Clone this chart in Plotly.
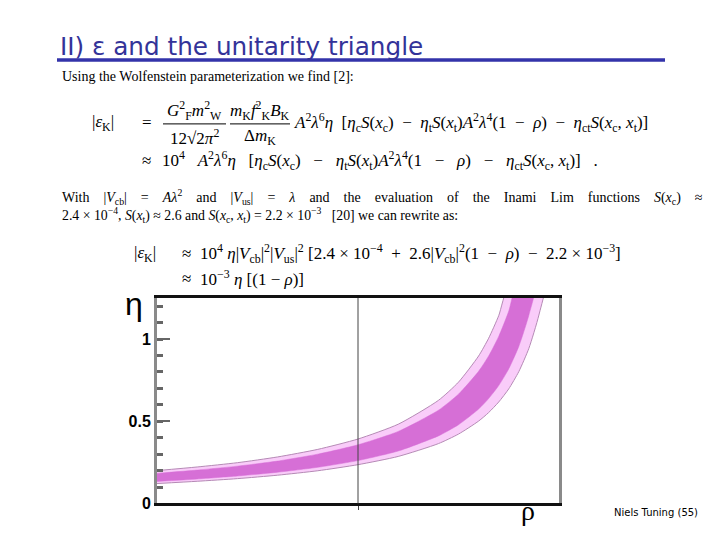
import plotly.graph_objects as go

# ---- data (rho, eta) for the four band edges ----
outer_up_rho = [-1.0, -0.8, -0.6, -0.4, -0.2, 0.0, 0.2, 0.4, 0.5, 0.6, 0.65, 0.7, 0.75]
outer_up_eta = [0.200, 0.222, 0.248, 0.283, 0.329, 0.392, 0.482, 0.627, 0.738, 0.897, 1.005, 1.142, 1.324]

inner_up_rho = [-1.0, -0.8, -0.6, -0.4, -0.2, 0.0, 0.2, 0.4, 0.5, 0.6, 0.65, 0.7, 0.75, 0.8]
inner_up_eta = [0.183, 0.203, 0.227, 0.258, 0.300, 0.357, 0.438, 0.567, 0.665, 0.804, 0.897, 1.016, 1.170, 1.380]

inner_lo_rho = [-1.0, -0.8, -0.6, -0.4, -0.2, 0.0, 0.2, 0.4, 0.5, 0.6, 0.65, 0.7, 0.75, 0.8, 0.85, 0.9]
inner_lo_eta = [0.134, 0.149, 0.167, 0.190, 0.220, 0.261, 0.319, 0.411, 0.479, 0.574, 0.638, 0.717, 0.819, 0.955, 1.145, 1.429]

outer_lo_rho = [-1.0, -0.8, -0.6, -0.4, -0.2, 0.0, 0.2, 0.4, 0.5, 0.6, 0.65, 0.7, 0.75, 0.8, 0.85, 0.9, 0.95]
outer_lo_eta = [0.121, 0.135, 0.151, 0.172, 0.199, 0.236, 0.286, 0.364, 0.422, 0.501, 0.553, 0.617, 0.697, 0.802, 0.943, 1.146, 1.459]

ytick_vals = [0, 0.5, 1]
ytick_text = ["<b>0</b>", "<b>0.5</b>", "<b>1</b>"]
marker_rho = 0.0  # vertical reference line

W, H = 720, 540
def px(x):
    return x / W
def py(y):
    return 1 - y / H

fig = go.Figure()

# outer (light) band
fig.add_trace(go.Scatter(
    x=outer_up_rho + outer_lo_rho[::-1],
    y=outer_up_eta + outer_lo_eta[::-1],
    fill="toself", fillcolor="#f9ccf9",
    line=dict(color="#b58ab5", width=1, shape="spline", smoothing=0.6),
    mode="lines", hoverinfo="skip", showlegend=False))
# inner (dark) band
fig.add_trace(go.Scatter(
    x=inner_up_rho + inner_lo_rho[::-1],
    y=inner_up_eta + inner_lo_eta[::-1],
    fill="toself", fillcolor="#d66fd6",
    line=dict(color="#d66fd6", width=0.5, shape="spline", smoothing=0.6),
    mode="lines", hoverinfo="skip", showlegend=False))

serif = "Liberation Serif"
ann = []
def add(text, x, y, size=14, xanchor="left", family=serif, color="black"):
    ann.append(dict(text=text, x=px(x), y=py(y), xref="paper", yref="paper",
                    xanchor=xanchor, yanchor="middle", showarrow=False,
                    font=dict(family=family, size=size, color=color)))

S = "\u00a0"
def op(sym, n=2):
    return S * n + sym + S * n

EQ = 17
def bracket(n):
    return ("[<i>η</i><sub>c</sub><i>S</i>(<i>x</i><sub>c</sub>)" + op("−", n) +
            "<i>η</i><sub>t</sub><i>S</i>(<i>x</i><sub>t</sub>)"
            "<i>A</i><sup>2</sup><i>λ</i><sup>4</sup>(1" + op("−", n) + "<i>ρ</i>)" + op("−", n) +
            "<i>η</i><sub>ct</sub><i>S</i>(<i>x</i><sub>c</sub>, <i>x</i><sub>t</sub>)]")

# title
add("II) ε and the unitarity triangle", 58, 47, size=24.7, family="DejaVu Sans", color="#333399")

add("Using the Wolfenstein parameterization we find [2]:", 60, 78, size=14)

# first equation
add("|<i>ε</i><sub>K</sub>|", 90, 125, size=EQ)
add("=", 140, 125, size=EQ)
add("<i>G</i><sup>2</sup><sub>F</sub><i>m</i><sup>2</sup><sub>W</sub>", 194, 112, size=EQ, xanchor="center")
add("12√2<i>π</i><sup>2</sup>", 194, 139, size=EQ, xanchor="center")
add("<i>m</i><sub>K</sub><i>f</i><sup>2</sup><sub>K</sub><i>B</i><sub>K</sub>", 260, 112, size=EQ, xanchor="center")
add("Δ<i>m</i><sub>K</sub>", 260, 139, size=EQ, xanchor="center")
add("<i>A</i><sup>2</sup><i>λ</i><sup>6</sup><i>η</i>" + S * 2 + bracket(2) + S, 292, 125, size=EQ)
add("≈", 140, 163, size=EQ)
add("10<sup>4</sup>" + S * 3 + "<i>A</i><sup>2</sup><i>λ</i><sup>6</sup><i>η</i>" + S * 3 + bracket(3) + S * 3 + ".", 160, 163, size=EQ)

G = S * 4
add(G.join(["With", "|<i>V</i><sub>cb</sub>|", "=", "<i>Aλ</i><sup>2</sup>", "and", "|<i>V</i><sub>us</sub>|", "=",
            "<i>λ</i>", "and", "the", "evaluation", "of", "the", "Inami", "Lim", "functions",
            "<i>S</i>(<i>x</i><sub>c</sub>)", "≈"]), 60, 200, size=14)
add("2.4 × 10<sup>−4</sup>, <i>S</i>(<i>x</i><sub>t</sub>) ≈ 2.6 and <i>S</i>(<i>x</i><sub>c</sub>, <i>x</i><sub>t</sub>) = 2.2 × 10<sup>−3</sup>" + S * 3 + "[20] we can rewrite as:", 60, 219, size=13.8)

add("|<i>ε</i><sub>K</sub>|", 132, 258, size=EQ)
add("≈", 180, 258, size=EQ)
add("10<sup>4</sup>" + S + "<i>η</i>|<i>V</i><sub>cb</sub>|<sup>2</sup>|<i>V</i><sub>us</sub>|<sup>2</sup>" + S + "[2.4" + op("×", 1) +
    "10<sup>−4</sup>" + op("+", 2) + "2.6|<i>V</i><sub>cb</sub>|<sup>2</sup>(1" + op("−", 2) + "<i>ρ</i>)" + op("−", 2) +
    "2.2" + op("×", 1) + "10<sup>−3</sup>]", 198, 258, size=EQ)
add("≈", 180, 283, size=EQ)
add("10<sup>−3</sup>" + S + "<i>η</i>" + S + "[(1" + op("−", 1) + "<i>ρ</i>)]", 198, 283, size=EQ)

# axis symbols and footer
add("η", 134, 309, size=32, xanchor="center", family="Liberation Sans")
add("ρ", 528, 519, size=28, xanchor="center", family="Liberation Serif")
add("Niels Tuning (55)", 612, 521, size=10, family="DejaVu Sans")

fig.update_layout(
    width=W, height=H,
    margin=dict(l=0, r=0, t=0, b=0),
    paper_bgcolor="white", plot_bgcolor="white",
    annotations=ann,
    xaxis=dict(domain=[px(157), px(559)], range=[-1, 1], showgrid=False, zeroline=False,
               showline=True, linecolor="#111111", linewidth=2.5, mirror=True,
               tickvals=[marker_rho], ticks="outside", ticklen=4, tickcolor="#444444",
               showticklabels=False),
    yaxis=dict(domain=[py(512), py(303)], range=[0, 1.25], showgrid=False, zeroline=False,
               showline=True, linecolor="#8a8a8a", linewidth=3, mirror=True,
               tickvals=ytick_vals, ticktext=ytick_text, ticks="inside", ticklen=13,
               tickwidth=2, tickcolor="#666666",
               tickfont=dict(family="Liberation Sans", size=16, color="black"),
               minor=dict(ticks="inside", dtick=0.1, tick0=0, ticklen=6, tickwidth=3,
                          tickcolor="#666666")),
)

fig.add_shape(type="line", xref="x", yref="y domain", x0=marker_rho, x1=marker_rho, y0=0, y1=1,
              line=dict(color="#444444", width=1), layer="above")
fig.add_shape(type="line", xref="paper", yref="paper", x0=px(57), x1=px(665), y0=py(61), y1=py(61),
              line=dict(color="#3333aa", width=3.5), layer="above")
fig.add_shape(type="line", xref="paper", yref="paper", x0=px(163), x1=px(226), y0=py(126), y1=py(126),
              line=dict(color="black", width=1), layer="above")
fig.add_shape(type="line", xref="paper", yref="paper", x0=px(230), x1=px(290), y0=py(126), y1=py(126),
              line=dict(color="black", width=1), layer="above")

fig.write_html("out.html", config={"displayModeBar": False},
               post_script="document.body.style.margin='0';document.documentElement.style.overflow='hidden';")
